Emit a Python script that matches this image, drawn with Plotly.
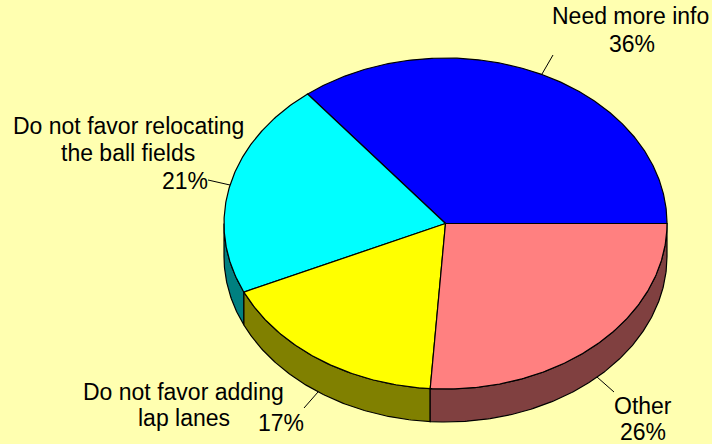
import math
import plotly.graph_objects as go

categories = ["Need more info", "Do not favor relocating|the ball fields", "Do not favor adding|lap lanes", "Other"]
values = [35.7, 21.1, 17.1, 26.1]
top_colors = ["#0000FF", "#00FFFF", "#FFFF00", "#FF8080"]
side_colors = ["#000080", "#008080", "#808000", "#804040"]
BG = "#FFFFB0"
W, H = 712, 444
CX, CY, RX, RY, DEPTH = 445.5, 223.5, 221.5, 165.5, 33

def pt(a, dy=0):
    r = math.radians(a)
    return CX + RX * math.cos(r), CY - RY * math.sin(r) + dy

def arc(a0, a1, dy=0):
    n = max(2, int(abs(a1 - a0) * 2))
    return [pt(a0 + (a1 - a0) * i / n, dy) for i in range(n + 1)]

fig = go.Figure()

def poly(points, fill):
    xs = [p[0] for p in points]
    ys = [p[1] for p in points]
    fig.add_trace(go.Scatter(x=xs + xs[:1], y=ys + ys[:1], mode="lines", fill="toself",
                             fillcolor=fill, line=dict(color="black", width=1.2),
                             hoverinfo="skip", showlegend=False))

angles = [0]
for v in values:
    angles.append(angles[-1] + v * 3.6)

# visible rim (front half of the disc, 180..360 degrees)
for i, v in enumerate(values):
    a0, a1 = max(angles[i], 180), min(angles[i + 1], 360)
    if a1 > a0:
        poly(arc(a0, a1) + arc(a1, a0, DEPTH), side_colors[i])

# top faces
for i, v in enumerate(values):
    poly([(CX, CY)] + arc(angles[i], angles[i + 1]), top_colors[i])

# label placement: centre of each text line, then centre of the percentage
line_pos = [[(630.5, 16)], [(128, 126), (128, 153)], [(183, 392), (184, 418)], [(642.5, 406)]]
pct_pos = [(632, 44), (185, 181), (281, 423), (642.5, 432)]
for i, c in enumerate(categories):
    for text, (x, y) in zip(c.split("|"), line_pos[i]):
        fig.add_annotation(x=x, y=y, text=text, showarrow=False, align="center")
    fig.add_annotation(x=pct_pos[i][0], y=pct_pos[i][1], text=f"{round(values[i])}%", showarrow=False)

# leader lines
leaders = [((553, 55), (542, 74)), ((208, 180), (230, 185)), ((318, 392), (304, 408)), ((597, 377), (614, 392))]
for a, b in leaders:
    fig.add_shape(type="line", x0=a[0], y0=a[1], x1=b[0], y1=b[1], line=dict(color="black", width=1))

fig.update_layout(
    width=W, height=H, margin=dict(l=0, r=0, t=0, b=0),
    paper_bgcolor=BG, plot_bgcolor=BG,
    font=dict(family="Liberation Sans", size=23, color="black"),
    xaxis=dict(range=[0, W], visible=False, fixedrange=True),
    yaxis=dict(range=[H, 0], visible=False, fixedrange=True),
    showlegend=False,
)
fig.write_html("out.html", config={"displayModeBar": False},
               post_script="document.body.style.margin='0';document.body.style.overflow='hidden';")
